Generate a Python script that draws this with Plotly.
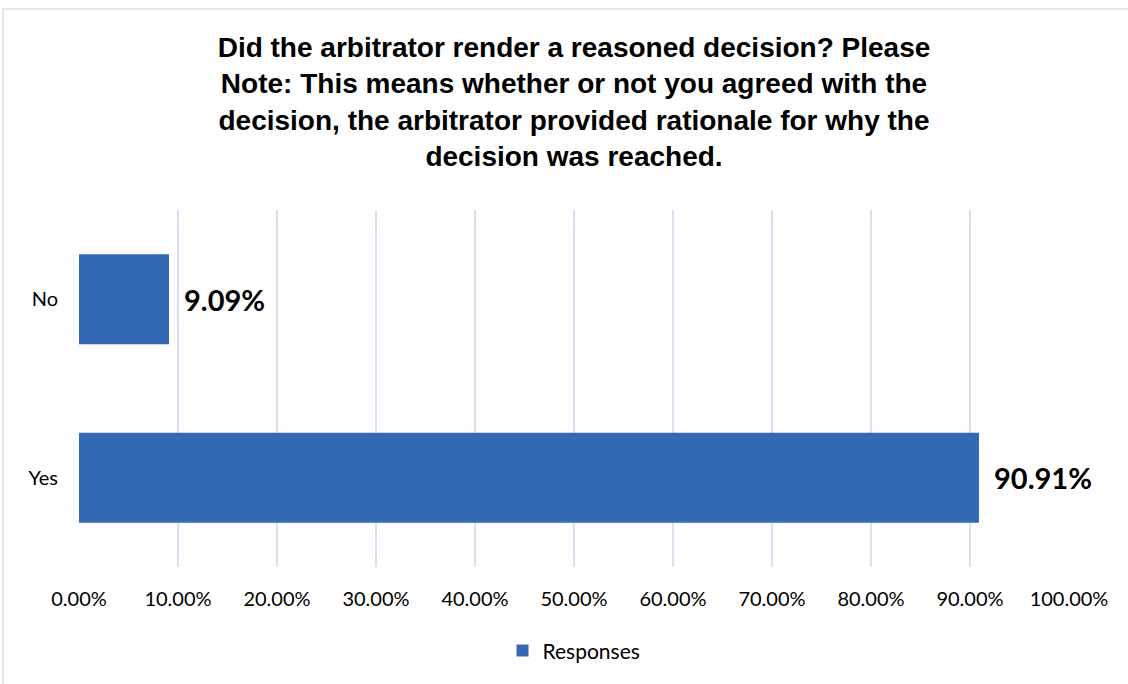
import plotly.graph_objects as go

categories = ["Yes", "No"]
values = [90.91, 9.09]
tick_vals = [0, 10, 20, 30, 40, 50, 60, 70, 80, 90, 100]
tick_text = ["0.00%", "10.00%", "20.00%", "30.00%", "40.00%", "50.00%",
             "60.00%", "70.00%", "80.00%", "90.00%", "100.00%"]
series_name = "Responses"
title_text = ("Did the arbitrator render a reasoned decision? Please<br>"
              "Note: This means whether or not you agreed with the<br>"
              "decision, the arbitrator provided rationale for why the<br>"
              "decision was reached.")

bar_color = "#3469B3"
grid_color = "#D6E2F3"

fig = go.Figure()
fig.add_trace(go.Bar(
    x=values, y=categories, orientation="h", name=series_name,
    marker=dict(color=bar_color, line=dict(width=0)),
    width=0.505, showlegend=True,
))

annotations = []
for c, v in zip(categories, values):
    annotations.append(dict(
        x=v, y=c, xref="x", yref="y", text=f"<b>{v:.2f}%</b>",
        showarrow=False, xanchor="left", yanchor="middle", xshift=10,
        font=dict(family="Lato", size=29, color="#000000"),
        bgcolor="#FFFFFF", borderpad=4,
    ))

fig.update_layout(
    width=1128, height=684,
    margin=dict(l=79, r=59, t=210, b=117),
    paper_bgcolor="#FFFFFF", plot_bgcolor="#FFFFFF",
    title=dict(
        text=f"<b>{title_text}</b>",
        x=0.5, xref="paper", xanchor="center",
        y=1 - 57 / 684, yref="container", yanchor="top",
        font=dict(family="Liberation Sans, Arial", size=28, color="#000000"),
    ),
    xaxis=dict(
        range=[0, 100], tickvals=tick_vals, ticktext=tick_text,
        showgrid=True, gridcolor=grid_color, gridwidth=1.5,
        zeroline=False, showline=False, ticks="",
        tickfont=dict(family="Lato", size=20, color="#000000"),
        ticklabelstandoff=18, fixedrange=True,
    ),
    yaxis=dict(
        categoryorder="array", categoryarray=categories,
        range=[-0.5, 1.5], showgrid=False, zeroline=False, showline=False,
        ticks="", tickfont=dict(family="Lato", size=20, color="#000000"),
        ticklabelstandoff=20,
    ),
    legend=dict(
        orientation="h", x=0.5, xanchor="center", y=-0.235, yanchor="middle",
        font=dict(family="Lato", size=21, color="#000000"),
        itemwidth=30,
    ),
    annotations=annotations,
    shapes=[dict(
        type="rect", xref="paper", yref="paper",
        x0=(3 - 79) / 990, x1=1.2, y0=-0.6, y1=1 + (210 - 9) / 357,
        line=dict(color="#D9E2F0", width=1.5), fillcolor="rgba(0,0,0,0)",
        layer="below",
    )],
    bargap=0.5,
)

fig.write_html("out.html", config={"displayModeBar": False},
               post_script="document.body.style.margin='0px';")
